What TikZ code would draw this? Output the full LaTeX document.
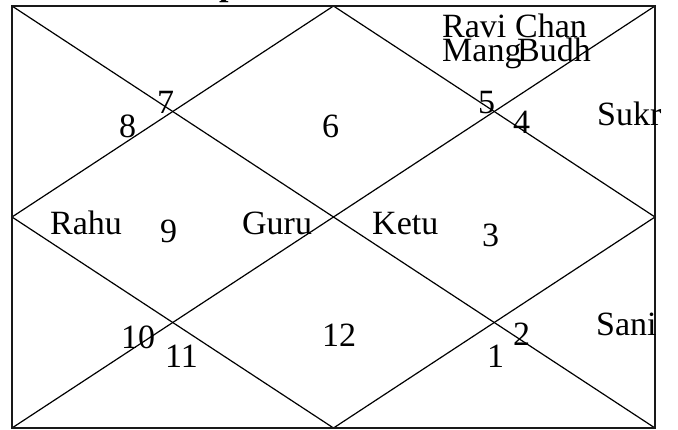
\documentclass[tikz,border=0pt]{standalone}
\usepackage{fontspec}
\setmainfont{Liberation Serif}
\usetikzlibrary{positioning}

\tikzset{
  frame/.style={draw=black!90, line width=1.6pt},
  house/.style={draw=black, line width=1.2pt},
  txt/.style={anchor=base west, inner sep=0pt, font=\fontsize{34}{34}\selectfont},
}

\begin{document}
\begin{tikzpicture}[x=1pt,y=-1pt]
    \useasboundingbox (0,0) rectangle (678,429);

    % Title (cut off at the top)
    \node[txt, font=\fontsize{34}{34}\selectfont\bfseries] (title) at (219,-5) {p};

    % Corners and midpoints of the frame
    \coordinate (tl) at (12,6);
    \coordinate (tr) at (655,6);
    \coordinate (br) at (655,428);
    \coordinate (bl) at (12,428);
    \coordinate (tm) at (333.5,6);
    \coordinate (rm) at (655,217);
    \coordinate (bm) at (333.5,428);
    \coordinate (lm) at (12,217);

    % Houses
    \draw[house] (tl) -- (br);
    \draw[house] (tr) -- (bl);
    \draw[house] (tm) -- (rm) -- (bm) -- (lm) -- cycle;
    \draw[frame] (tl) rectangle (br);

    % House numbers
    \node[txt] (h1) at (487,367) {1};
    \node[txt] (h2) at (513,345) {2};
    \node[txt] (h3) at (482,246) {3};
    \node[txt] (h4) at (513,133) {4};
    \node[txt] (h5) at (478,113) {5};
    \node[txt] (h6) at (322,137) {6};
    \node[txt] (h7) at (157,113) {7};
    \node[txt] (h8) at (119,137) {8};
    \node[txt] (h9) at (160,242) {9};
    \node[txt] (h10) at (121,348) {10};
    \node[txt] (h11) at (165,367) {11};
    \node[txt] (h12) at (322,346) {12};

    % Planets
    \node[txt] (ravi) at (442,37) {Ravi};
    \node[txt] (chan) at (515,37) {Chan};
    \node[txt] (mang) at (442,61) {Mang};
    \node[txt] (budh) at (517,61) {Budh};
    \node[txt] (sukr) at (597,125) {Sukr};
    \node[txt] (rahu) at (50,234) {Rahu};
    \node[txt] (guru) at (242,234) {Guru};
    \node[txt] (ketu) at (372,234) {Ketu};
    \node[txt] (sani) at (596,335) {Sani};
\end{tikzpicture}
\end{document}
